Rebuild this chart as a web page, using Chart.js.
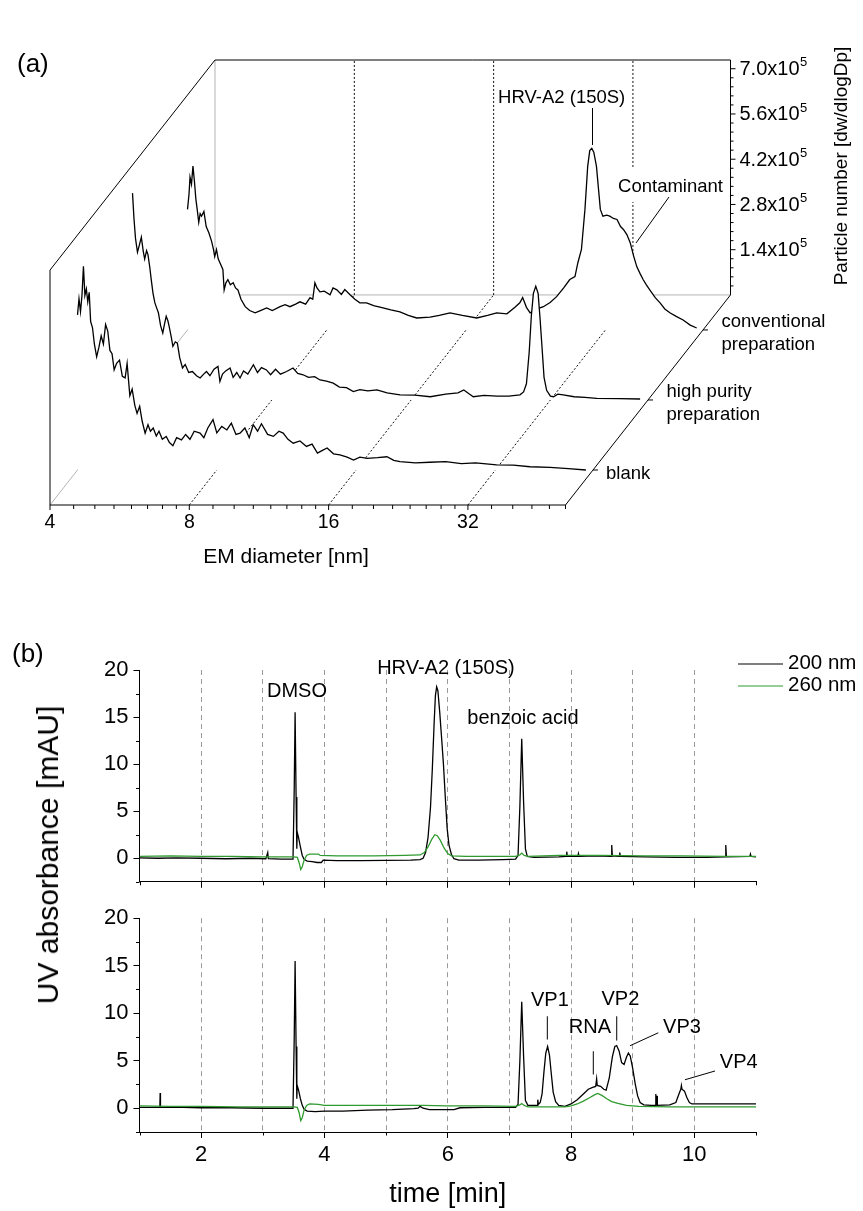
<!DOCTYPE html>
<html>
<head>
<meta charset="utf-8">
<script src="https://cdn.jsdelivr.net/npm/chart.js@4.4.1/dist/chart.umd.min.js"></script>
<style>
  html, body { margin: 0; padding: 0; background: #fff; }
  #page { position: relative; width: 863px; height: 1211px; overflow: hidden; background: #fff; }
  canvas { position: absolute; left: 0; }
  #uvTitle { position: absolute; left: 48px; top: 855px; transform: translate(-50%, -50%) rotate(-90deg);
    font: 30px Arial, "Liberation Sans", sans-serif; white-space: nowrap; color: #000; }
</style>
</head>
<body>
<div id="page">
  <canvas id="psd" width="863" height="600" style="top:0"></canvas>
  <canvas id="uvTop" width="863" height="260" style="top:640px"></canvas>
  <canvas id="uvBottom" width="863" height="311" style="top:900px"></canvas>
  <div id="uvTitle">UV absorbance [mAU]</div>
</div>
<script>
const FONT = 'Arial, "Liberation Sans", sans-serif';
Chart.defaults.font.family = FONT;
Chart.defaults.color = '#000';

// ---------- (a) size distributions: [EM diameter nm, particle number in 1e5 dw/dlogDp]
const blankPSD = [
  [4.00,4.8],[4.03,5.3],[4.06,4.9],[4.09,5.4],[4.12,6.3],[4.15,5.4],[4.18,5.6],[4.21,5.2],[4.24,5.5],[4.27,4.6],
  [4.31,4.4],[4.35,3.9],[4.40,3.5],[4.45,3.8],[4.50,4.15],[4.55,3.9],[4.60,4.5],[4.65,4.3],[4.70,3.7],[4.75,3.6],
  [4.80,3.1],[4.86,3.3],[4.93,3.4],[5.00,2.9],[5.07,2.85],[5.12,3.3],[5.19,2.3],[5.25,2.5],[5.32,2.0],[5.38,1.75],
  [5.45,1.97],[5.52,1.5],[5.60,1.14],[5.68,1.4],[5.75,1.2],[5.83,1.3],[5.92,1.05],[6.00,1.2],[6.10,0.95],[6.22,1.04],
  [6.32,0.85],[6.43,0.75],[6.55,1.0],[6.71,0.93],[6.85,1.1],[7.00,0.95],[7.15,1.2],[7.36,1.14],[7.50,1.0],[7.65,1.3],
  [7.85,1.56],[8.00,1.15],[8.2,1.35],[8.41,1.24],[8.6,1.45],[8.8,1.1],[8.98,1.14],[9.2,1.3],[9.4,1.0],[9.59,1.4],
  [9.8,1.2],[9.99,1.43],[10.3,1.1],[10.6,1.04],[10.9,1.2],[11.13,1.14],[11.4,0.95],[11.7,0.83],[12.1,0.9],[12.5,0.73],
  [12.85,0.8],[13.2,0.52],[13.5,0.6],[13.85,0.68],[14.3,0.5],[14.76,0.47],[15.3,0.4],[15.8,0.31],[16.3,0.4],[16.9,0.36],
  [17.8,0.38],[18.65,0.41],[19.3,0.3],[19.9,0.26],[21.5,0.22],[23.1,0.24],[25.0,0.26],[27.0,0.2],[29.0,0.22],[32.2,0.16],
  [35.0,0.15],[38.0,0.10],[42.0,0.08],[46.0,0.04],[50.2,0.0]
];
const highPurityPSD = [
  [4.00,6.4],[4.03,5.6],[4.06,5.0],[4.10,4.57],[4.14,4.8],[4.18,5.04],[4.22,4.6],[4.25,4.36],[4.29,4.62],[4.32,4.5],
  [4.36,4.1],[4.39,3.73],[4.43,3.3],[4.47,3.01],[4.51,2.85],[4.55,2.70],[4.60,2.3],[4.65,2.07],[4.69,2.35],[4.73,2.59],
  [4.77,2.45],[4.80,2.28],[4.85,1.95],[4.89,1.66],[4.95,1.8],[5.00,1.76],[5.06,1.3],[5.13,0.99],[5.2,1.1],[5.29,0.85],
  [5.39,0.88],[5.5,0.75],[5.60,0.68],[5.7,0.8],[5.78,0.88],[5.88,0.75],[6.0,0.95],[6.12,1.04],[6.18,0.57],[6.26,0.8],
  [6.36,0.9],[6.50,0.99],[6.6,0.7],[6.72,0.85],[6.83,0.68],[6.95,0.9],[7.1,0.8],[7.30,1.09],[7.45,0.85],[7.6,1.0],
  [7.79,0.93],[7.95,0.78],[8.15,0.95],[8.35,0.8],[8.61,0.88],[8.89,0.99],[9.1,0.82],[9.35,0.78],[9.6,0.7],[9.9,0.72],
  [10.17,0.62],[10.5,0.58],[10.86,0.52],[11.2,0.4],[11.6,0.38],[12.0,0.26],[12.4,0.32],[12.9,0.28],[13.5,0.31],[14.2,0.22],
  [15.14,0.16],[16.3,0.15],[17.6,0.10],[19.0,0.18],[20.2,0.22],[20.8,0.31],[21.3,0.2],[21.8,0.10],[23.0,0.14],[24.5,0.12],
  [26.0,0.12],[27.5,0.16],[28.0,0.25],[28.4,0.5],[28.8,1.5],[29.1,2.6],[29.4,3.3],[29.75,3.52],[30.1,3.3],[30.4,2.5],
  [30.7,1.6],[31.0,0.7],[31.4,0.3],[32.0,0.12],[32.5,0.1],[33.2,0.18],[34.1,0.16],[36.0,0.1],[38.0,0.08],[40.3,0.05],
  [45.0,0.04],[50.0,0.03]
];
const conventionalPSD = [
  [4.00,3.73],[4.03,4.2],[4.05,4.73],[4.08,4.51],[4.11,5.07],[4.14,4.6],[4.17,4.05],[4.20,3.7],[4.23,3.33],[4.26,3.6],
  [4.29,3.52],[4.34,3.67],[4.39,3.2],[4.45,3.0],[4.51,2.74],[4.55,2.5],[4.58,2.27],[4.62,2.49],[4.66,2.2],[4.70,2.08],
  [4.77,1.87],[4.80,1.24],[4.84,1.45],[4.89,1.56],[4.95,1.4],[5.02,1.46],[5.08,1.3],[5.14,1.24],[5.22,0.95],[5.33,0.72],
  [5.45,0.6],[5.60,0.53],[5.75,0.6],[5.93,0.68],[6.1,0.6],[6.34,0.72],[6.5,0.78],[6.66,0.72],[6.85,0.8],[7.00,0.87],
  [7.2,0.8],[7.36,1.0],[7.46,0.95],[7.54,1.46],[7.62,1.3],[7.73,1.18],[7.9,1.2],[8.13,1.09],[8.25,1.3],[8.41,1.24],
  [8.6,1.1],[8.75,1.25],[8.98,1.09],[9.2,0.95],[9.43,0.84],[9.75,0.84],[10.1,0.75],[10.58,0.68],[11.0,0.62],[11.51,0.56],
  [12.0,0.45],[12.51,0.37],[13.37,0.4],[14.0,0.45],[14.77,0.53],[15.7,0.45],[16.87,0.37],[17.8,0.45],[18.63,0.53],[19.6,0.5],
  [20.4,0.7],[20.9,0.84],[21.2,1.0],[21.6,0.7],[22.0,0.53],[22.8,0.65],[23.5,0.72],[24.3,0.85],[25.1,1.03],[26.0,1.3],
  [26.8,1.56],[27.5,1.65],[27.9,2.08],[28.4,2.49],[28.9,3.73],[29.3,5.07],[29.6,5.55],[29.9,5.62],[30.2,5.5],[30.6,5.07],
  [31.2,3.73],[31.6,3.52],[32.2,3.55],[32.7,3.52],[33.3,3.45],[33.9,3.42],[34.5,3.2],[35.0,3.11],[35.6,2.95],[36.2,2.7],
  [36.8,2.3],[37.4,1.96],[38.0,1.75],[38.6,1.56],[39.2,1.4],[39.9,1.24],[41.0,1.0],[42.0,0.84],[43.0,0.65],[44.1,0.53],
  [45.5,0.42],[47.1,0.31],[48.8,0.15],[50.4,0.06]
];
const psdSeries = [blankPSD, highPurityPSD, conventionalPSD];
const psdNames = [['blank'], ['high purity', 'preparation'], ['conventional', 'preparation']];
const psdDepth = [1 / 6, 1 / 2, 5 / 6];
const psdMajorNm = [4, 8, 16, 32];
const psdMinorNm = [4.5, 5, 5.5, 6, 6.5, 7, 7.5, 9, 10, 11, 12, 13, 14, 15, 18, 20, 22, 24, 26, 28, 30, 36, 40, 44, 48, 52];
const psdYTicks = [1.4, 2.8, 4.2, 5.6, 7.0];
const NM_MIN = 4, NM_MAX = 52, Y_TOP = 7.27;
const DX = 1.1845, DY = 6.5; // depth shift of the back plane (octaves, 1e5 units)

// ---------- (b) chromatograms: [time min, absorbance mAU]
const top200 = [
  [1.0,0.05],[1.3,0.0],[1.6,0.05],[2.0,0.0],[2.4,-0.05],[2.8,0.0],[3.05,-0.05],[3.08,0.6],[3.09,-0.05],[3.3,-0.1],[3.49,-0.1],
  [3.51,7.5],[3.524,15.5],[3.54,6.5],[3.552,1.0],[3.558,2.8],[3.58,2.2],[3.61,1.2],[3.64,0.3],[3.67,-0.1],[3.72,-0.3],
  [3.8,-0.35],[3.88,-0.45],[3.95,-0.45],[3.98,-0.2],[4.2,-0.25],[4.6,-0.25],[5.0,-0.22],[5.4,-0.2],[5.55,-0.15],
  [5.6,0.0],[5.64,0.6],[5.68,2.2],[5.72,5.4],[5.75,9.5],[5.78,14.5],[5.8,17.3],[5.82,18.2],[5.84,17.8],[5.87,15.5],
  [5.9,12.8],[5.93,10.0],[5.96,6.5],[5.99,3.2],[6.02,1.4],[6.06,0.4],[6.1,-0.05],[6.18,-0.2],[6.5,-0.2],[6.9,-0.15],[7.1,-0.1],
  [7.14,0.3],[7.17,5.5],[7.2,12.7],[7.23,6.0],[7.26,1.0],[7.29,0.2],[7.4,0.1],[7.8,0.15],[7.92,0.2],[7.93,0.7],[7.94,0.2],
  [8.11,0.2],[8.12,0.5],[8.13,0.2],[8.4,0.25],[8.65,0.2],[8.66,1.4],[8.67,0.25],[8.78,0.2],[8.79,0.6],[8.8,0.2],[9.2,0.15],
  [9.7,0.1],[10.2,0.1],[10.5,0.15],[10.51,1.4],[10.52,0.15],[10.9,0.2],[10.91,0.45],[10.92,0.2],[11.0,0.15]
];
const top260 = [
  [1.0,0.2],[1.5,0.25],[2.0,0.2],[2.5,0.2],[3.0,0.15],[3.5,0.15],[3.56,0.1],[3.59,-0.5],[3.615,-1.2],[3.64,-0.9],[3.67,-0.2],
  [3.71,0.3],[3.76,0.45],[3.9,0.45],[3.93,0.3],[4.2,0.25],[4.8,0.25],[5.3,0.3],[5.55,0.35],[5.62,0.6],[5.68,1.2],[5.74,2.0],
  [5.79,2.5],[5.83,2.4],[5.88,1.9],[5.94,1.1],[6.0,0.5],[6.06,0.25],[6.3,0.2],[6.8,0.2],[7.1,0.2],[7.17,0.35],[7.2,0.55],
  [7.24,0.3],[7.3,0.2],[7.8,0.3],[8.5,0.3],[9.2,0.25],[9.8,0.25],[10.5,0.2],[11.0,0.2]
];
const bottom200 = [
  [1.0,0.1],[1.33,0.1],[1.335,1.6],[1.34,0.1],[1.7,0.1],[2.0,0.05],[2.5,0.05],[3.0,0.0],[3.49,0.0],
  [3.51,7.5],[3.524,15.5],[3.54,6.5],[3.552,1.0],[3.558,2.4],[3.58,1.9],[3.61,1.0],[3.64,0.3],[3.67,-0.1],[3.72,-0.3],
  [3.85,-0.35],[4.0,-0.3],[4.3,-0.3],[4.7,-0.2],[5.1,-0.15],[5.45,-0.05],[5.52,0.0],[5.55,0.2],[5.6,0.0],[5.7,-0.15],
  [5.9,-0.15],[6.1,-0.15],[6.2,0.05],[6.6,0.1],[7.1,0.1],
  [7.14,0.4],[7.17,5.0],[7.2,11.2],[7.23,5.5],[7.26,0.8],[7.3,0.3],[7.45,0.3],[7.46,0.9],[7.47,0.4],[7.5,0.6],[7.53,1.5],
  [7.56,3.8],[7.59,5.8],[7.62,6.5],[7.65,5.6],[7.68,3.6],[7.71,1.7],[7.75,0.7],[7.8,0.3],[7.9,0.2],[8.0,0.45],[8.1,0.9],
  [8.2,1.5],[8.28,2.0],[8.35,2.2],[8.4,2.3],[8.415,3.1],[8.425,2.4],[8.48,2.3],[8.53,2.0],[8.57,1.9],[8.62,3.2],[8.67,5.4],
  [8.71,6.5],[8.74,6.6],[8.78,6.0],[8.82,4.8],[8.86,4.6],[8.9,5.4],[8.93,5.8],[8.96,5.5],[9.0,4.2],[9.04,2.6],[9.08,1.3],
  [9.12,0.6],[9.18,0.35],[9.3,0.3],[9.37,0.3],[9.375,1.5],[9.38,0.3],[9.395,1.3],[9.4,0.3],[9.6,0.35],[9.7,0.6],[9.75,1.5],
  [9.78,2.0],[9.79,2.4],[9.8,2.0],[9.84,1.8],[9.88,1.1],[9.92,0.6],[9.96,0.45],[10.2,0.45],[10.6,0.45],[11.0,0.45]
];
const bottom260 = [
  [1.0,0.25],[1.5,0.2],[2.0,0.2],[2.6,0.15],[3.0,0.15],[3.5,0.15],[3.56,0.1],[3.59,-0.5],[3.615,-1.3],[3.64,-1.0],[3.67,-0.2],
  [3.71,0.3],[3.76,0.45],[3.9,0.4],[4.0,0.3],[4.6,0.3],[5.2,0.3],[5.6,0.3],[6.0,0.25],[6.6,0.25],[7.1,0.2],[7.17,0.35],
  [7.2,0.5],[7.24,0.3],[7.3,0.15],[7.6,0.15],[7.9,0.15],[8.0,0.25],[8.1,0.45],[8.2,0.75],[8.3,1.1],[8.38,1.4],[8.43,1.55],
  [8.5,1.35],[8.58,1.0],[8.66,0.7],[8.76,0.5],[8.9,0.3],[9.1,0.2],[9.6,0.15],[10.2,0.15],[11.0,0.15]
];
const wavelengths = ['200 nm', '260 nm'];
const topLabels = [['DMSO', 3.555, 17.7], ['HRV-A2 (150S)', 5.97, 20.2], ['benzoic acid', 7.22, 14.8]];
const bottomLabels = [['VP1', 7.657, 11.3], ['RNA', 8.307, 8.45], ['VP2', 8.80, 11.4], ['VP3', 9.80, 8.55], ['VP4', 10.72, 4.77]];
const bottomLeaders = [[7.615, 9.68, 7.615, 7.23], [8.361, 6.0, 8.361, 3.55], [8.741, 9.68, 8.741, 7.12],
  [9.415, 7.94, 8.956, 6.58], [10.335, 3.92, 9.848, 3.0]];

function seg(ctx, a, b, color, dash) {
  ctx.save();
  ctx.strokeStyle = color; ctx.lineWidth = 1; ctx.setLineDash(dash || []);
  ctx.beginPath(); ctx.moveTo(a.x, a.y); ctx.lineTo(b.x, b.y); ctx.stroke();
  ctx.restore();
}
function text(ctx, s, x, y, size, align) {
  ctx.font = size + 'px ' + FONT; ctx.fillStyle = '#000';
  ctx.textAlign = align || 'center'; ctx.textBaseline = 'middle';
  ctx.fillText(s, x, y);
}

// ---------- (a) waterfall
function projector(chart) {
  const xs = chart.scales.x, ys = chart.scales.y;
  return (nm, v, k) => ({ x: xs.getPixelForValue(Math.log2(nm / NM_MIN) + k * DX), y: ys.getPixelForValue(v + k * DY) });
}
const psdFrame = {
  id: 'psdFrame',
  beforeDatasetsDraw(chart) {
    const ctx = chart.ctx, P = projector(chart);
    const grey = '#b4b4b4';
    seg(ctx, P(NM_MIN, 0, 1), P(NM_MIN, Y_TOP, 1), grey);
    seg(ctx, P(NM_MIN, 0, 1), P(NM_MAX, 0, 1), grey);
    seg(ctx, P(NM_MIN, 0, 0), P(NM_MIN, 0, 1), grey);
    for (const nm of psdMajorNm.slice(1)) {
      seg(ctx, P(nm, 0, 0), P(nm, 0, 1), '#111', [2, 2]);
      seg(ctx, P(nm, 0, 1), P(nm, Y_TOP, 1), '#111', [2, 2]);
    }
  },
  afterDatasetsDraw(chart) {
    const ctx = chart.ctx, P = projector(chart);
    const k = '#000';
    seg(ctx, P(NM_MIN, 0, 0), P(NM_MAX, 0, 0), k);
    seg(ctx, P(NM_MIN, 0, 0), P(NM_MIN, Y_TOP, 0), k);
    seg(ctx, P(NM_MIN, Y_TOP, 0), P(NM_MIN, Y_TOP, 1), k);
    seg(ctx, P(NM_MIN, Y_TOP, 1), P(NM_MAX, Y_TOP, 1), k);
    seg(ctx, P(NM_MAX, 0, 1), P(NM_MAX, Y_TOP, 1), k);
    seg(ctx, P(NM_MAX, 0, 0), P(NM_MAX, 0, 1), k);
    // front diameter axis
    for (const nm of psdMinorNm) { const p = P(nm, 0, 0); seg(ctx, p, { x: p.x, y: p.y + 4 }, k); }
    for (const nm of psdMajorNm) {
      const p = P(nm, 0, 0); seg(ctx, p, { x: p.x, y: p.y + 5 }, k);
      text(ctx, String(nm), p.x, p.y + 18, 19.5);
    }
    const f0 = P(NM_MIN, 0, 0);
    text(ctx, 'EM diameter [nm]', 286, f0.y + 52, 21);
    // particle number axis on back wall
    for (let i = 1; i * 0.28 <= Y_TOP; i++) {
      const p = P(NM_MAX, i * 0.28, 1); seg(ctx, p, { x: p.x + (i % 5 === 0 ? 5 : 3), y: p.y }, k);
    }
    for (const v of psdYTicks) {
      const p = P(NM_MAX, v, 1);
      const s = v.toFixed(1) + 'x10';
      text(ctx, s, p.x + 9, p.y + 1, 20, 'left');
      const w = ctx.measureText(s).width;
      text(ctx, '5', p.x + 9 + w + 0.5, p.y - 6, 13, 'left');
    }
    ctx.save();
    ctx.translate(842, 166); ctx.rotate(-Math.PI / 2);
    text(ctx, 'Particle number [dw/dlogDp]', 0, 0, 19);
    ctx.restore();
    // depth axis: sample names
    psdNames.forEach((lines, i) => {
      const p = P(NM_MAX, 0, psdDepth[i]);
      seg(ctx, p, { x: p.x + 5, y: p.y }, k);
      const multi = lines.length > 1;
      lines.forEach((l, j) => text(ctx, l, p.x + (multi ? 18.5 : 13), p.y + (multi ? -8.5 : 4) + j * 23.5, 18.5, 'left'));
    });
    // peak annotations
    text(ctx, 'HRV-A2 (150S)', 561.7, 98, 18.5);
    seg(ctx, { x: 592.5, y: 108 }, { x: 592.5, y: 145 }, k);
    ctx.fillStyle = '#fff'; ctx.fillRect(615, 168, 111, 34);
    text(ctx, 'Contaminant', 670.5, 187, 18.5);
    seg(ctx, { x: 669, y: 197 }, { x: 636, y: 243 }, k);
    text(ctx, '(a)', 17, 65, 26, 'left');
  }
};

new Chart(document.getElementById('psd'), {
  type: 'scatter',
  data: {
    datasets: psdSeries.map((s, i) => ({
      label: psdNames[i].join(' '),
      data: s.map(([nm, v]) => ({ x: Math.log2(nm / NM_MIN) + psdDepth[i] * DX, y: v + psdDepth[i] * DY })),
      showLine: true, borderColor: '#000', borderWidth: 1.3, pointRadius: 0,
      fill: { value: psdDepth[i] * DY }, backgroundColor: '#fff', order: i + 1, clip: false
    }))
  },
  options: {
    responsive: false, animation: false,
    layout: { padding: { left: 50, top: 60, right: 132.5, bottom: 95 } },
    scales: {
      x: { type: 'linear', display: false, min: 0, max: Math.log2(NM_MAX / NM_MIN) + DX },
      y: { type: 'linear', display: false, min: 0, max: Y_TOP + DY }
    },
    plugins: { legend: { display: false }, tooltip: { enabled: false } }
  },
  plugins: [psdFrame]
});

// ---------- (b) chromatograms
function uvExtras(labels, leaders, withLegend) {
  return {
    id: 'uvExtras',
    afterDraw(chart) {
      const { ctx, chartArea: a, scales: { x, y } } = chart;
      ctx.save();
      ctx.strokeStyle = '#000'; ctx.lineWidth = 1; ctx.beginPath();
      for (const t of x.ticks) if (t.value % 2 !== 0) {
        const px = Math.round(x.getPixelForValue(t.value)) + 0.5;
        ctx.moveTo(px, a.bottom); ctx.lineTo(px, a.bottom + 3.5);
      }
      for (const t of y.ticks) if (t.value % 5 !== 0) {
        const py = Math.round(y.getPixelForValue(t.value)) + 0.5;
        ctx.moveTo(a.left, py); ctx.lineTo(a.left - 3.5, py);
      }
      ctx.stroke();
      for (const [s, t, v] of labels) text(ctx, s, x.getPixelForValue(t), y.getPixelForValue(v), 20);
      for (const [t1, v1, t2, v2] of leaders)
        seg(ctx, { x: x.getPixelForValue(t1), y: y.getPixelForValue(v1) }, { x: x.getPixelForValue(t2), y: y.getPixelForValue(v2) }, '#000');
      if (withLegend) {
        chart.data.datasets.forEach((d, i) => {
          const ly = 24 + i * 22;
          ctx.strokeStyle = d.borderColor; ctx.lineWidth = 1.2;
          ctx.beginPath(); ctx.moveTo(738, ly); ctx.lineTo(783, ly); ctx.stroke();
          text(ctx, d.label, 788, ly - 1, 20.5, 'left');
        });
        text(ctx, '(b)', 12, 15, 26, 'left');
      }
      ctx.restore();
    }
  };
}

function uvChart(id, s200, s260, opts) {
  return new Chart(document.getElementById(id), {
    type: 'scatter',
    data: {
      datasets: [
        { label: wavelengths[0], data: s200.map(([t, v]) => ({ x: t, y: v })), borderColor: '#000', order: 1 },
        { label: wavelengths[1], data: s260.map(([t, v]) => ({ x: t, y: v })), borderColor: '#2f9a2f', order: 0 }
      ].map(d => Object.assign(d, { showLine: true, borderWidth: 1.3, pointRadius: 0, fill: false }))
    },
    options: {
      responsive: false, animation: false,
      layout: { padding: { left: 0, right: 107, top: opts.top, bottom: 0 } },
      scales: {
        x: {
          type: 'linear', min: 1, max: 11,
          afterFit: s => { s.height = opts.xHeight; },
          ticks: { stepSize: 1, autoSkip: false, maxRotation: 0, display: opts.xLabels, padding: 4,
            font: { size: 22 }, callback: v => (v % 2 === 0 ? v : '') },
          grid: {
            color: c => (c.tick && c.tick.value >= 2 && c.tick.value <= 10 ? '#9a9a9a' : 'rgba(0,0,0,0)'),
            tickColor: c => (c.tick && c.tick.value % 2 === 0 ? '#000' : 'rgba(0,0,0,0)'),
            tickLength: 6, lineWidth: 1
          },
          border: { display: true, color: '#000', width: 1, dash: [5, 4] },
          title: { display: opts.xLabels, text: 'time [min]', font: { size: 27 }, padding: { top: 0, bottom: 0 } }
        },
        y: {
          type: 'linear', min: -2.5, max: 20,
          afterFit: s => { s.width = 139.5; },
          ticks: { stepSize: 2.5, autoSkip: false, padding: 5, font: { size: 22 },
            callback: v => (v % 5 === 0 ? v : '') },
          grid: { drawOnChartArea: false, tickLength: 6,
            tickColor: c => (c.tick && c.tick.value % 5 === 0 ? '#000' : 'rgba(0,0,0,0)') },
          border: { display: true, color: '#000', width: 1 }
        }
      },
      plugins: { legend: { display: false }, tooltip: { enabled: false } }
    },
    plugins: [uvExtras(opts.labels, opts.leaders, opts.legend)]
  });
}

uvChart('uvTop', top200, top260, { top: 30, xHeight: 10, xLabels: false, labels: topLabels, leaders: [], legend: true });
uvChart('uvBottom', bottom200, bottom260, { top: 12, xHeight: 79, xLabels: true, labels: bottomLabels, leaders: bottomLeaders, legend: false });
</script>
</body>
</html>
